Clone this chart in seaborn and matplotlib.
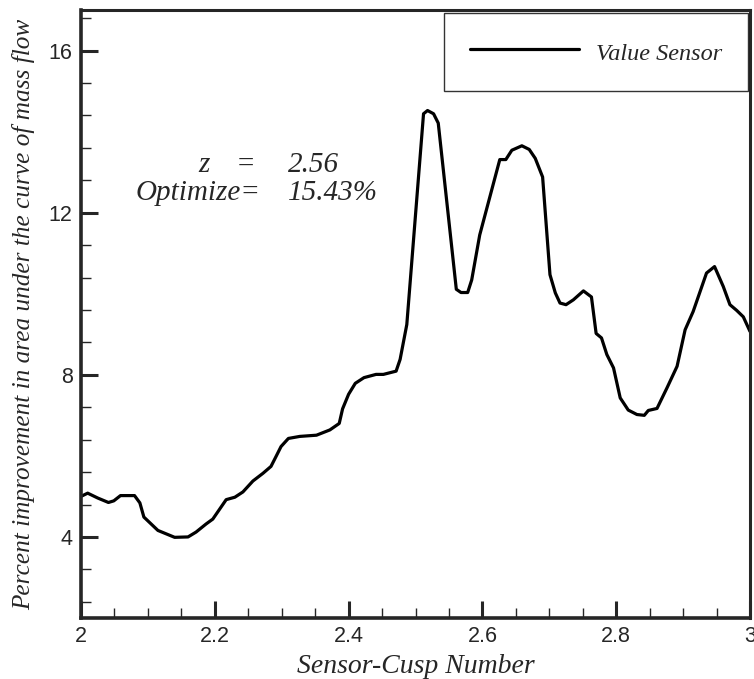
import numpy as np
import pandas as pd
import seaborn as sns
import matplotlib
matplotlib.use("Agg")
import matplotlib.pyplot as plt
from matplotlib.ticker import MultipleLocator

# Datos
sensor_cusp = [2.000, 2.010, 2.025, 2.041, 2.049, 2.059, 2.080, 2.088, 2.094, 2.115,
               2.140, 2.160, 2.172, 2.187, 2.197, 2.217, 2.230, 2.242, 2.257, 2.272,
               2.284, 2.292, 2.299, 2.310, 2.327, 2.352, 2.372, 2.386, 2.391, 2.400,
               2.410, 2.423, 2.441, 2.452, 2.471, 2.477, 2.487, 2.512, 2.518, 2.527,
               2.534, 2.561, 2.568, 2.578, 2.584, 2.596, 2.626, 2.635, 2.644, 2.659,
               2.670, 2.679, 2.690, 2.701, 2.709, 2.716, 2.725, 2.736, 2.751, 2.763,
               2.770, 2.778, 2.786, 2.796, 2.806, 2.818, 2.831, 2.842, 2.848, 2.861,
               2.876, 2.891, 2.903, 2.915, 2.935, 2.947, 2.960, 2.970, 2.980, 2.990,
               3.000]
mejora = [5.00, 5.08, 4.96, 4.85, 4.89, 5.02, 5.02, 4.84, 4.49, 4.16,
          3.99, 4.00, 4.12, 4.32, 4.44, 4.92, 4.98, 5.11, 5.38, 5.57,
          5.74, 6.00, 6.23, 6.43, 6.48, 6.51, 6.64, 6.80, 7.16, 7.52,
          7.79, 7.93, 8.01, 8.01, 8.09, 8.38, 9.24, 14.44, 14.52, 14.44,
          14.21, 10.11, 10.03, 10.03, 10.34, 11.45, 13.31, 13.31, 13.54, 13.65,
          13.56, 13.34, 12.88, 10.47, 10.02, 9.77, 9.73, 9.85, 10.07, 9.92,
          9.02, 8.91, 8.50, 8.17, 7.43, 7.13, 7.02, 7.00, 7.12, 7.17,
          7.68, 8.21, 9.11, 9.56, 10.51, 10.67, 10.18, 9.73, 9.59, 9.43,
          9.07]
x_ticks = [2, 2.2, 2.4, 2.6, 2.8, 3]
x_labels = ["2", "2.2", "2.4", "2.6", "2.8", "3"]
y_ticks = [4, 8, 12, 16]
y_labels = ["4", "8", "12", "16"]

sns.set_style("ticks")
plt.rcParams['font.family'] = ['Liberation Sans', 'DejaVu Sans']
serif = ['Liberation Serif', 'DejaVu Serif']

df = pd.DataFrame({'x': sensor_cusp, 'y': mejora})

fig = plt.figure(figsize=(7.54, 6.79), dpi=100)
ax = fig.add_axes([81 / 754, 1 - 618 / 679, 669 / 754, 608 / 679])
sns.lineplot(data=df, x='x', y='y', ax=ax, color='black', linewidth=2.3,
             label='Value Sensor', sort=False)

ax.set_xlim(2, 3)
ax.set_ylim(2, 17)
ax.set_xticks(x_ticks)
ax.set_xticklabels(x_labels)
ax.set_yticks(y_ticks)
ax.set_yticklabels(y_labels)
ax.xaxis.set_minor_locator(MultipleLocator(0.05))
ax.yaxis.set_minor_locator(MultipleLocator(0.8))
ax.tick_params(which='major', direction='in', length=12, width=2.2, labelsize=15.5,
               pad=6, top=False, right=False)
ax.tick_params(which='minor', direction='in', length=7, width=1.0,
               top=False, right=False)
for s in ['left', 'bottom']:
    ax.spines[s].set_linewidth(2.6)
for s in ['top', 'right']:
    ax.spines[s].set_linewidth(2.2)

ax.set_xlabel('Sensor-Cusp Number', family=serif, style='italic', fontsize=20, labelpad=5)
ax.set_ylabel('Percent improvement in area under the curve of mass flow',
              family=serif, style='italic', fontsize=18.2, labelpad=10)

leg = ax.legend(loc='upper right', bbox_to_anchor=(1 - 2 / 669, 1 - 3 / 608),
                borderaxespad=0, fancybox=False, frameon=True, handlelength=4.5,
                handletextpad=0.7, borderpad=1.05, handleheight=1.3,
                prop={'family': serif, 'style': 'italic', 'size': 17.5})
leg.get_frame().set_edgecolor('black')
leg.get_frame().set_linewidth(1.0)

# Anotacion
def px(x, y):
    return x / 754, 1 - y / 679

kw = dict(family=serif, style='italic', fontsize=21, va='baseline', ha='left')
fig.text(*px(198, 172), 'z', **kw)
fig.text(*px(236, 172), '=', **kw)
fig.text(*px(288, 172), '2.56', **kw)
fig.text(*px(136, 200), 'Optimize=', **kw)
fig.text(*px(288, 200), '15.43%', **kw)

plt.savefig('out.png', dpi=100)
plt.close()
